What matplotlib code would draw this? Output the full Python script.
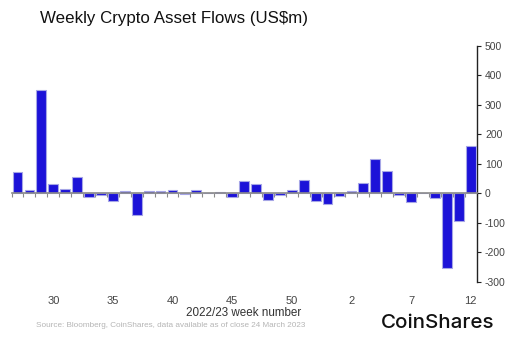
import matplotlib.pyplot as plt
from matplotlib.ticker import FixedLocator

# week numbers 2022/23 and weekly flows (US$m)
semanas = list(range(27, 54)) + list(range(1, 13))
flujos = [73, 11, 350, 31, 13, 54, -11, -6, -25, 9,
          -73, 9, 8, 10, -2, 12, 1, 5, -13, 43,
          33, -22, -6, 10, 44, -25, -36, -8, 8, 36,
          118, 77, -5, -31, 0, -15, -254, -95, 160]
etiquetas = {30: "30", 35: "35", 40: "40", 45: "45", 50: "50"}
etiquetas_23 = {2: "2", 7: "7", 12: "12"}
yticks = [-300, -200, -100, 0, 100, 200, 300, 400, 500]

fuente = "Liberation Sans"
plt.rcParams['font.family'] = [fuente, 'DejaVu Sans']

fig = plt.figure(figsize=(5.12, 3.38), dpi=100)
ax = fig.add_axes([0.0225, 0.1666, 0.9085, 0.6974])

x = list(range(len(semanas)))
ax.bar(x, flujos, width=0.82, color="#1c12d8", edgecolor="#a6a6e6", linewidth=0.8, zorder=3)

ax.set_xlim(-0.5, 38.5)
ax.set_ylim(-300, 500)

# axis on the right
for s in ["top", "left"]:
    ax.spines[s].set_visible(False)
ax.spines["right"].set_color("#222222")
ax.spines["right"].set_linewidth(1)
ax.yaxis.tick_right()
ax.set_yticks(yticks)
ax.set_yticklabels([str(v) for v in yticks])
ax.tick_params(axis="y", length=3, width=0.8, color="#222222", labelsize=7.5,
               labelcolor="#444444", pad=3)

# zero line with small ticks between bars
ax.spines["bottom"].set_position(("data", 0))
ax.spines["bottom"].set_color("#8a8a8a")
ax.spines["bottom"].set_linewidth(1.2)
ax.spines["bottom"].set_zorder(4)
ax.xaxis.set_major_locator(FixedLocator([i - 0.5 for i in range(len(semanas) + 1)]))
ax.tick_params(axis="x", length=3, width=0.8, color="#8a8a8a", labelbottom=False)

# week labels at the bottom
pos, txt = [], []
anio = 22
for i, s in enumerate(semanas):
    if i > 0 and s < semanas[i - 1]:
        anio = 23
    tabla = etiquetas if anio == 22 else etiquetas_23
    if s in tabla:
        pos.append(i)
        txt.append(tabla[s])
sec = ax.secondary_xaxis(0.0)
sec.set_xticks(pos)
sec.set_xticklabels(txt)
sec.tick_params(length=0, labelsize=8, labelcolor="#444444", pad=10)
sec.spines["bottom"].set_visible(False)

fig.text(0.078, 0.945, "Weekly Crypto Asset Flows (US$m)", fontsize=12.2,
         color="#111111", va="center", ha="left")
fig.text(0.475, 0.073, "2022/23 week number", fontsize=8.4, color="#333333",
         ha="center", va="center")
fig.text(0.07, 0.037, "Source: Bloomberg, CoinShares, data available as of close 24 March 2023",
         fontsize=5.9, color="#b5b5b5", ha="left", va="center")
fig.text(0.965, 0.045, "CoinShares", fontsize=14.8, color="#111111", ha="right",
         va="center", family=["Inter", "DejaVu Sans"], weight="medium")

fig.savefig("out.png", dpi=100)
